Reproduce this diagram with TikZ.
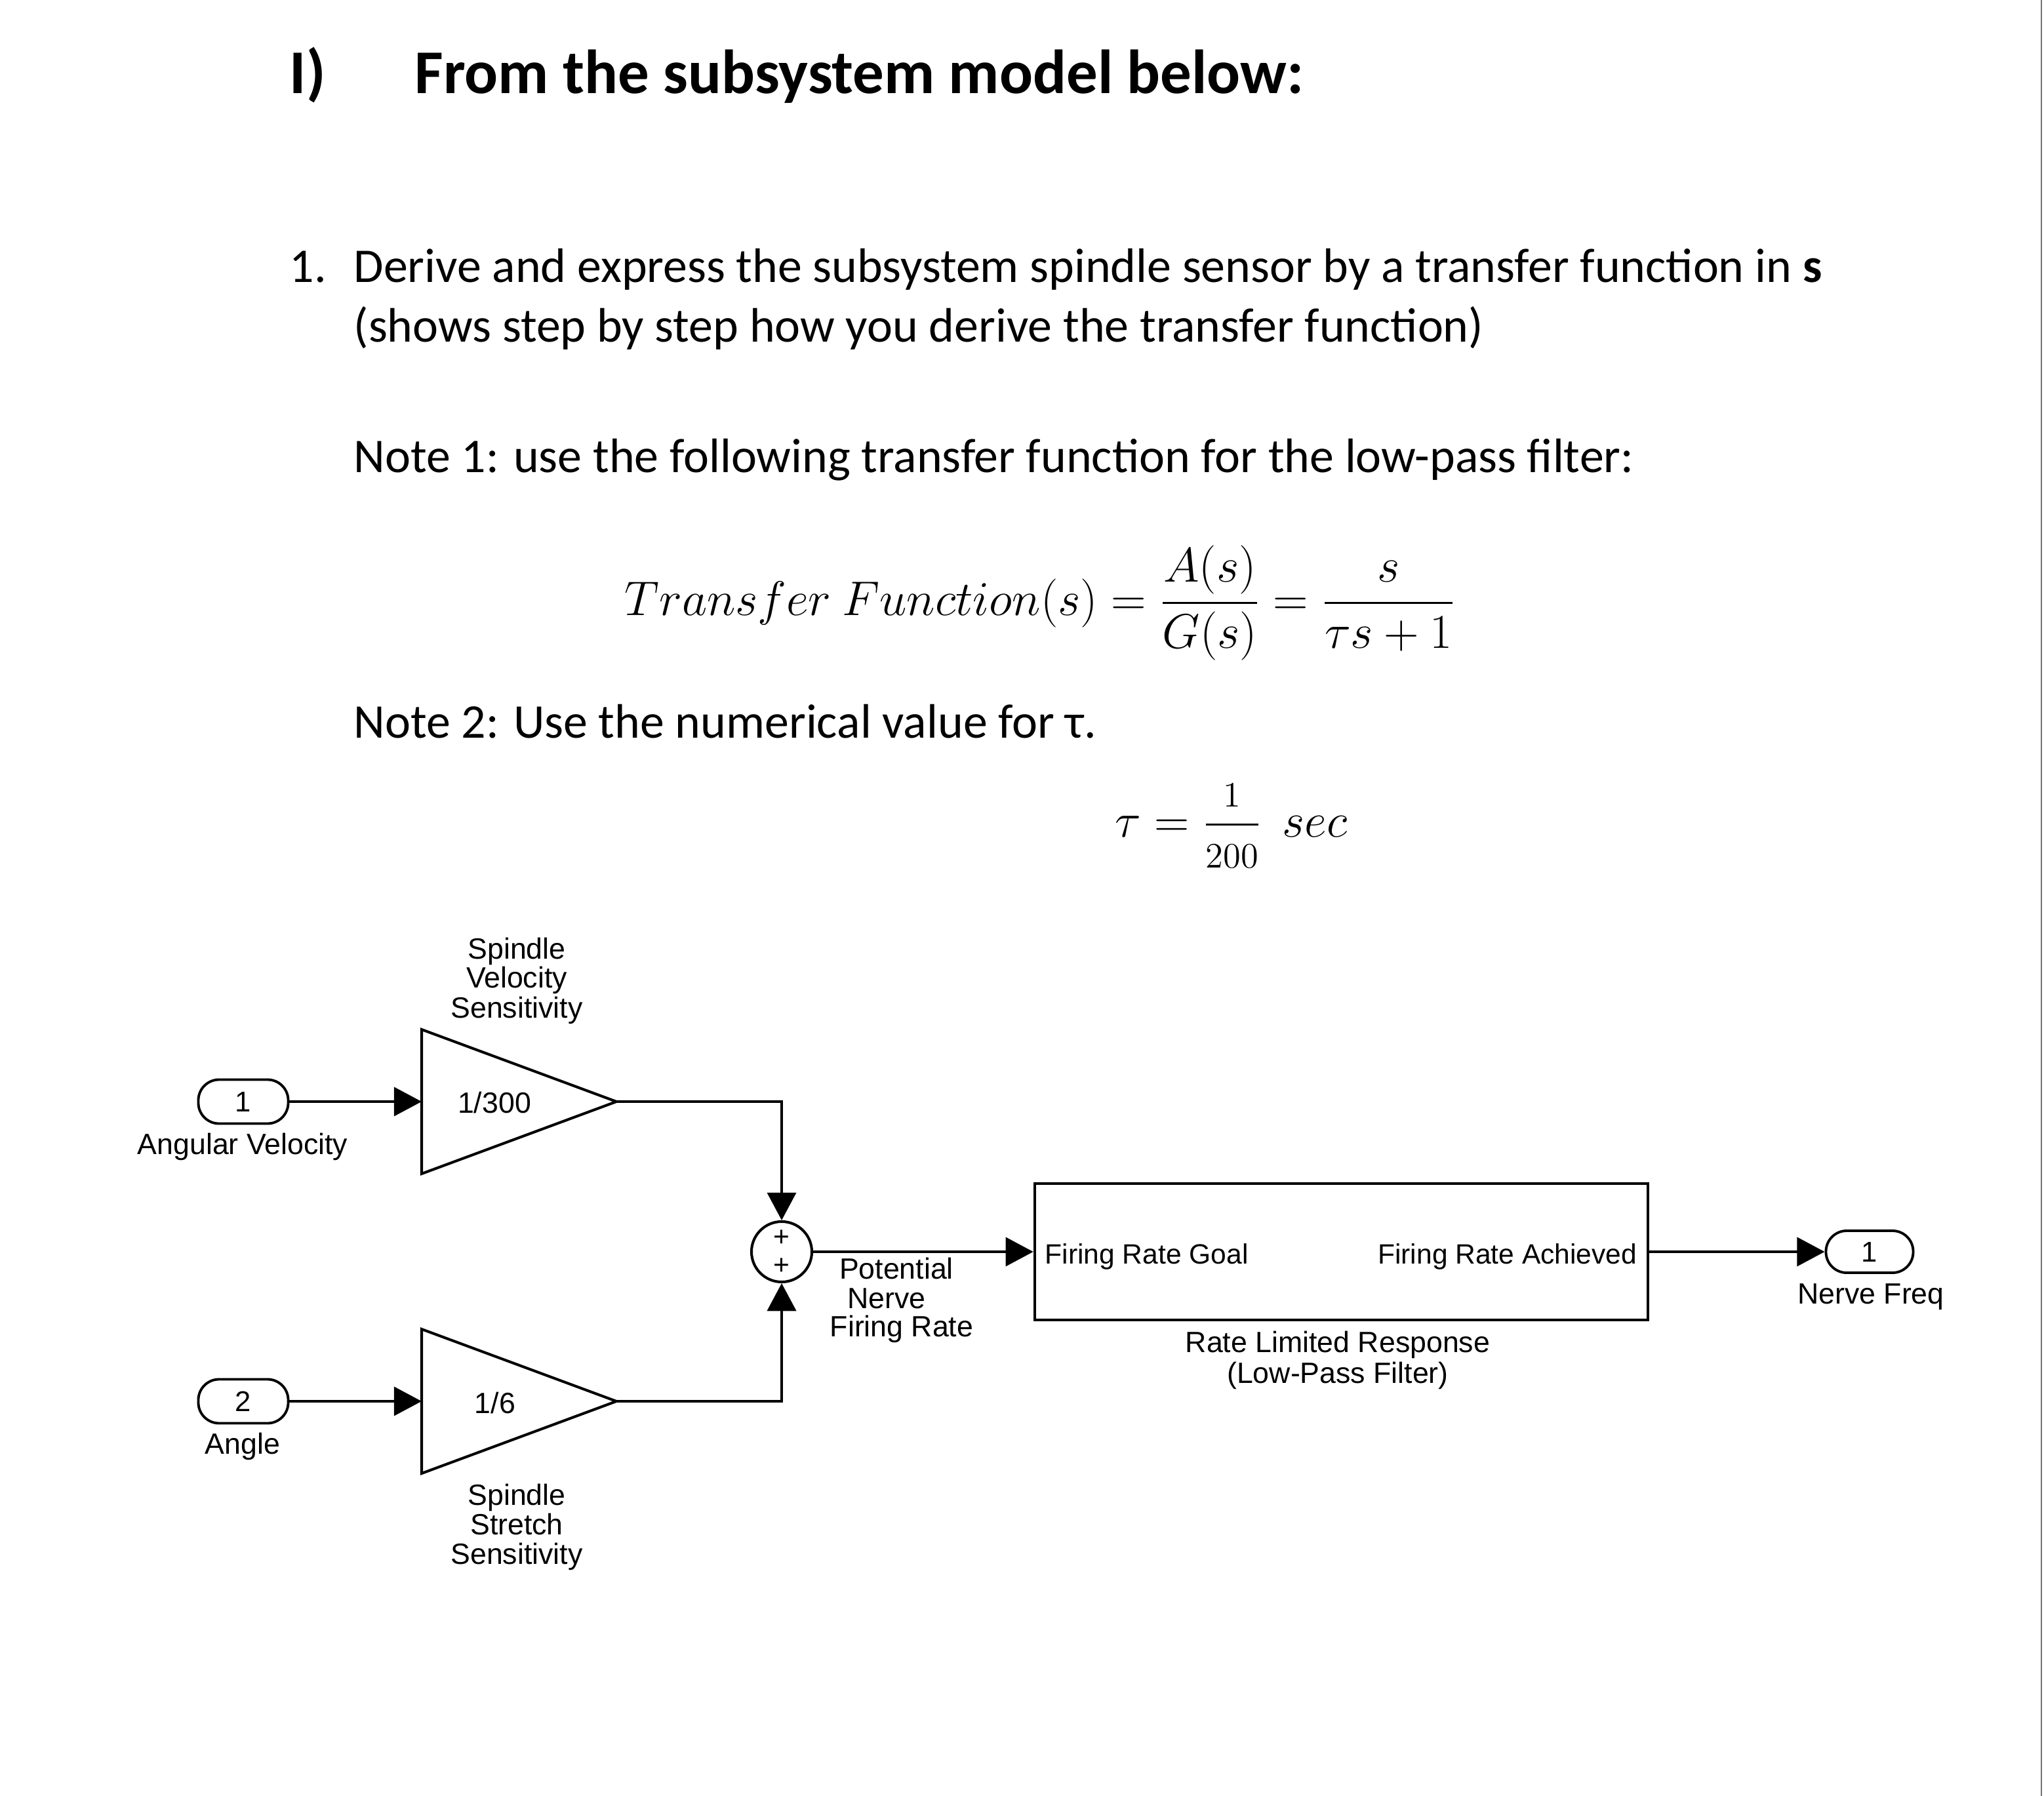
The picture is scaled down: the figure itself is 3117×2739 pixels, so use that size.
\RequirePackage{fix-cm}
\documentclass[tikz,border=0pt]{standalone}
\usepackage{amsmath}
\usepackage{fontspec}
\setmainfont{Carlito}
\newfontfamily\dfont{Liberation Sans}
\usetikzlibrary{arrows.meta}
\begin{document}
\begin{tikzpicture}[x=0.01cm,y=-0.01cm,
  body/.style={anchor=base west,inner sep=0,font=\fontsize{21}{25}\selectfont},
  ttl/.style={anchor=base west,inner sep=0,font=\bfseries\fontsize{27}{32}\selectfont},
  dtext/.style={anchor=base,inner sep=0,font=\dfont\fontsize{12.7}{15}\selectfont},
  btext/.style={inner sep=0,font=\dfont\fontsize{12.1}{14}\selectfont},
  port/.style={draw,line width=1.1pt,rounded corners=9pt,minimum width=1.37cm,minimum height=0.67cm,inner sep=0,font=\dfont\fontsize{12.4}{14}\selectfont},
  wire/.style={line width=1.15pt},
  arr/.style={wire,-{Triangle[length=12pt,width=12.5pt]}},
  gain/.style={line width=1.15pt,line join=miter},
]
\useasboundingbox (0,0) rectangle (3117,2739);
\fill[white] (0,0) rectangle (3117,2739);
\draw[black!55,line width=0.8pt] (3113,0) -- (3113,2739);

% ---- text part ----
\node[ttl] (t1) at (441,143) {I)};
\node[ttl] (t2) at (632,143) {From the subsystem model below:};
\node[body] (n1) at (441,430) {1.};
\node[body] (q1) at (539,430) {Derive and express the subsystem spindle sensor by a transfer function in \textbf{s}};
\node[body] (q2) at (539,521) {(shows step by step how you derive the transfer function)};
\node[body] (note1) at (539,720) {Note 1: use the following transfer function for the low-pass filter:};
\node[body,font=\fontsize{21.1}{25}\selectfont] (tf) at (952,938) {$\displaystyle Transfer\ Function(s)=\genfrac{}{}{1pt}{0}{A(s)}{G(s)}=\genfrac{}{}{1pt}{0}{s}{\tau s+1}$};
\node[body] (note2) at (539,1125) {Note 2: Use the numerical value for τ.};
\node[body] (tau) at (1700,1276) {$\tau=\genfrac{}{}{0.9pt}{0}{\raisebox{-1.2pt}{\fontsize{15.5}{18}\selectfont$1$}}{\raisebox{1pt}{\fontsize{15.5}{18}\selectfont$200$}}\;\,sec$};

% ---- diagram ----
\node[port] (in1) at (371,1680) {1};
\node[dtext] (in1l) at (370,1760) {Angular Velocity};
\node[port] (in2) at (371,2137) {2};
\node[dtext] (in2l) at (370,2217) {Angle};

\coordinate (g1in) at (643,1680);
\coordinate (g1out) at (940,1680);
\draw[gain] (643,1570) -- (g1out) -- (643,1790) -- cycle;
\node[dtext] (g1t) at (754,1697) {1/300};
\node[dtext] (g1a) at (788,1462) {Spindle};
\node[dtext] (g1b) at (788,1506) {Velocity};
\node[dtext] (g1c) at (788,1552) {Sensitivity};

\coordinate (g2in) at (643,2137);
\coordinate (g2out) at (940,2137);
\draw[gain] (643,2027) -- (g2out) -- (643,2247) -- cycle;
\node[dtext] (g2t) at (755,2155) {1/6};
\node[dtext] (g2a) at (788,2295) {Spindle};
\node[dtext] (g2b) at (788,2340) {Stretch};
\node[dtext] (g2c) at (788,2385) {Sensitivity};

\node[draw,circle,line width=1.15pt,minimum size=0.92cm,inner sep=0] (sum) at (1192,1909) {};
\node[btext] (p1) at (1192,1888) {+};
\node[btext] (p2) at (1192,1931) {+};

\node[dtext] (pa) at (1367,1950) {Potential};
\node[dtext] (pb) at (1352,1995) {Nerve};
\node[dtext] (pc) at (1375,2038) {Firing Rate};

\node[draw,line width=1.15pt,minimum width=9.35cm,minimum height=2.07cm,inner sep=0] (lpf) at (2045.5,1909) {};
\node[btext,anchor=base west] (goal) at (1593,1927) {Firing Rate Goal};
\node[btext,anchor=base east] (ach) at (2497,1927) {Firing Rate Achieved};
\node[dtext] (lpa) at (2040,2062) {Rate Limited Response};
\node[dtext] (lpb) at (2040,2109) {(Low-Pass Filter)};

\node[port,minimum width=1.33cm,minimum height=0.64cm] (out1) at (2851,1909) {1};
\node[dtext] (outl) at (2853,1988) {Nerve Freq};

\draw[arr] (in1.east) -- (g1in);
\draw[arr] (in2.east) -- (g2in);
\draw[arr] (g1out) -| (sum.north);
\draw[arr] (g2out) -| (sum.south);
\draw[arr] (sum.east) -- (lpf.west);
\draw[arr] (lpf.east) -- (out1.west);
\end{tikzpicture}
\end{document}
